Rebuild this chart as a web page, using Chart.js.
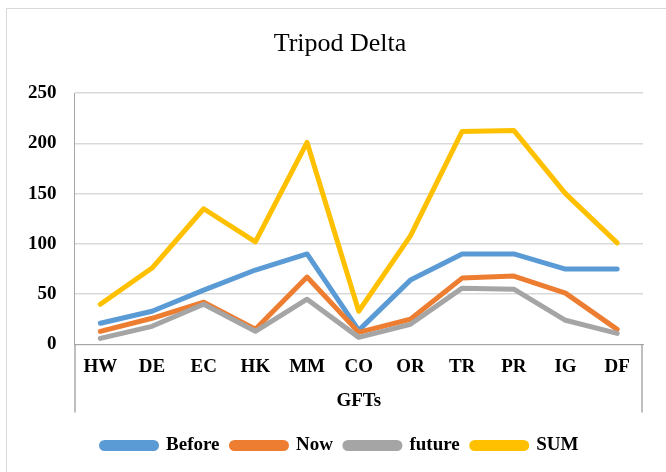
<!DOCTYPE html>
<html>
<head>
<meta charset="utf-8">
<title>Tripod Delta</title>
<script src="https://cdn.jsdelivr.net/npm/chart.js@4.4.1/dist/chart.umd.min.js"></script>
<style>
    html, body { margin: 0; padding: 0; background: #fff; overflow: hidden; }
    #wrap { position: relative; width: 666px; height: 472px; }
    #frame {
        position: absolute; left: 6px; top: 8px; width: 720px; height: 520px;
        border: 1.5px solid #d9d9d9; box-sizing: border-box;
    }
    #chart { position: absolute; left: 0; top: 0; }
</style>
</head>
<body>
<div id="wrap">
    <div id="frame"></div>
    <canvas id="chart" width="666" height="472"></canvas>
</div>
<script>
// Data
const categories = ['HW', 'DE', 'EC', 'HK', 'MM', 'CO', 'OR', 'TR', 'PR', 'IG', 'DF'];
const beforeValues = [21, 33, 54, 74, 90, 14, 64, 90, 90, 75, 75];
const nowValues = [13, 26, 42, 15, 67, 12, 25, 66, 68, 51, 15];
const futureValues = [6, 18, 40, 13, 45, 7, 20, 56, 55, 24, 11];
const sumValues = [40, 76, 135, 102, 201, 33, 108, 212, 213, 150, 101];
const yTicks = [0, 50, 100, 150, 200, 250];

const SERIF = "'Liberation Serif', 'Times New Roman', serif";

// Plot area border: y axis line runs down past the category labels, right side closes the box
const boxLines = {
    id: 'boxLines',
    afterDraw(chart) {
        const { ctx, chartArea } = chart;
        const bottom = chartArea.bottom + 68;
        ctx.save();
        ctx.strokeStyle = '#9a9a9a';
        ctx.lineWidth = 1.25;
        ctx.beginPath();
        ctx.moveTo(chartArea.left + 0.5, chartArea.bottom);
        ctx.lineTo(chartArea.left + 0.5, bottom);
        ctx.moveTo(chartArea.right - 1, chartArea.bottom);
        ctx.lineTo(chartArea.right - 1, bottom);
        ctx.stroke();
        ctx.restore();
    }
};

function makeLine(label, values, color, order) {
    return {
        label: label,
        data: values,
        borderColor: color,
        backgroundColor: color,
        borderWidth: 5,
        borderCapStyle: 'round',
        borderJoinStyle: 'round',
        pointRadius: 0,
        pointHoverRadius: 0,
        tension: 0,
        fill: false,
        order: order
    };
}

const chart = new Chart(document.getElementById('chart'), {
    type: 'line',
    data: {
        labels: categories,
        datasets: [
            makeLine('Before', beforeValues, '#5B9BD5', 3),
            makeLine('Now', nowValues, '#ED7D31', 2),
            makeLine('future', futureValues, '#A5A5A5', 1),
            makeLine('SUM', sumValues, '#FFC000', 0)
        ]
    },
    options: {
        responsive: false,
        animation: false,
        layout: {
            padding: { left: 24, right: 10, top: 0, bottom: 7 }
        },
        plugins: {
            title: {
                display: true,
                text: 'Tripod Delta',
                color: '#000',
                font: { family: SERIF, size: 26, weight: 'normal' },
                padding: { top: 29, bottom: 33 }
            },
            legend: {
                display: true,
                position: 'bottom',
                labels: {
                    sort: (a, b) => a.datasetIndex - b.datasetIndex,
                    color: '#000',
                    font: { family: SERIF, size: 19, weight: 'bold' },
                    boxWidth: 55,
                    boxHeight: 6,
                    useBorderRadius: true,
                    borderRadius: 3,
                    padding: 12
                }
            },
            tooltip: { enabled: false }
        },
        scales: {
            x: {
                offset: true,
                afterFit: (scale) => {
                    // room on the right of the plot area (counts the layout padding too)
                    scale.paddingRight = 23;
                },
                grid: { display: false, drawTicks: false },
                border: { display: true, color: '#a6a6a6', width: 1 },
                ticks: {
                    color: '#000',
                    padding: 11,
                    maxRotation: 0,
                    autoSkip: false,
                    font: { family: SERIF, size: 19, weight: 'bold' }
                },
                title: {
                    display: true,
                    text: 'GFTs',
                    color: '#000',
                    font: { family: SERIF, size: 19, weight: 'bold' },
                    padding: { top: 0, bottom: 12 }
                }
            },
            y: {
                min: 0,
                max: 250,
                afterFit: (scale) => {
                    scale.width -= 14;
                },
                afterBuildTicks: (scale) => {
                    scale.ticks = yTicks.map(v => ({ value: v }));
                },
                grid: { color: '#d9d9d9', lineWidth: 1.5, drawTicks: false },
                border: { display: true, color: '#a6a6a6', width: 1 },
                ticks: {
                    color: '#000',
                    padding: 18,
                    font: { family: SERIF, size: 19, weight: 'bold' }
                }
            }
        }
    },
    plugins: [boxLines]
});
</script>
</body>
</html>
